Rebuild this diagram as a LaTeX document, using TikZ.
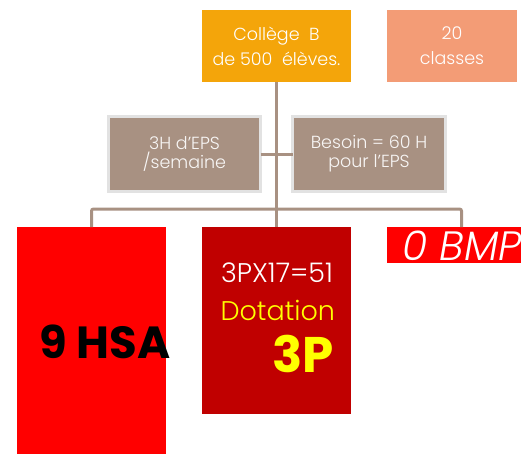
\documentclass[tikz,border=0pt]{standalone}
\usepackage{fontspec}
\setmainfont{Poppins}
\IfFontExistsTF{Poppins Light}{\newfontfamily\thinfont{Poppins Light}}{\newfontfamily\thinfont{Poppins}}
\usepackage{tikz}
\usetikzlibrary{positioning, calc}
\definecolor{boxorange}{RGB}{244,165,10}
\definecolor{boxsalmon}{RGB}{243,156,118}
\definecolor{boxtaupe}{RGB}{168,145,130}
\definecolor{frameg}{RGB}{226,226,226}
\definecolor{darkred}{RGB}{192,0,0}
\definecolor{hotred}{RGB}{255,0,0}
\definecolor{dotyellow}{RGB}{255,255,0}

\begin{document}
\begin{tikzpicture}[x=1pt, y=-1pt,
  every node/.style={inner sep=0pt, outer sep=0pt},
  link/.style={draw=boxtaupe, line width=3pt, rounded corners=2pt},
  headbox/.style={anchor=north west, minimum width=149pt, minimum height=72pt, align=center,
    text=white, font=\thinfont\fontsize{17.5}{25}\selectfont},
  infobox/.style={anchor=north west, draw=frameg, line width=3pt, fill=boxtaupe,
    minimum height=75pt, align=center, text=white!92!boxtaupe, font=\thinfont\fontsize{17.5}{19}\selectfont},
  resbox/.style={anchor=north west, minimum width=149pt}]
  \useasboundingbox (0,0) rectangle (521,453);

  % top row
  \node[headbox, fill=boxorange] (college) at (202,10) {Collège\ \ B\\de 500\ \ élèves.};
  \node[headbox, fill=boxsalmon, minimum width=130pt] (classes) at (387,10) {20\\classes};

  % middle row
  \node[infobox, minimum width=152pt] (eps) at (108.5,116.5) {3H d’EPS\\/semaine};
  \node[infobox, minimum width=153pt] (besoin) at (292.5,116.5) {Besoin = 60 H\\pour l’EPS};

  % bottom row
  \node[resbox, fill=hotred, minimum height=240pt] (hsa) at (17,227) {};
  \node[resbox, fill=darkred, minimum height=187pt] (dot) at (202,227) {};
  \node[resbox, fill=hotred, minimum height=36pt] (bmp) at (387,227) {};
  \coordinate (split) at (276.5,209);

  \draw[link] (college.south) -- (dot.north);
  \draw[link] (eps.east) -- (besoin.west);
  \draw[link] (hsa.north) |- (split) -| (bmp.north);

  \node[font=\fontsize{45}{45}\selectfont\bfseries] (hsatxt) at (105,342) {9 HSA};
  \node[anchor=base east, text=white, font=\thinfont\fontsize{27}{27}\selectfont] (calc) at (333,282) {3PX17=51};
  \node[anchor=base east, text=dotyellow, font=\thinfont\fontsize{27}{27}\selectfont] (dotlbl) at (335,320) {Dotation};
  \node[anchor=base east, text=dotyellow, font=\fontsize{50}{50}\selectfont\bfseries] (dotval) at (334,372) {3P};
  \node[anchor=base, text=white, font=\thinfont\fontsize{41}{41}\selectfont\itshape] (bmptxt) at (462,260) {0 BMP};
\end{tikzpicture}
\end{document}
